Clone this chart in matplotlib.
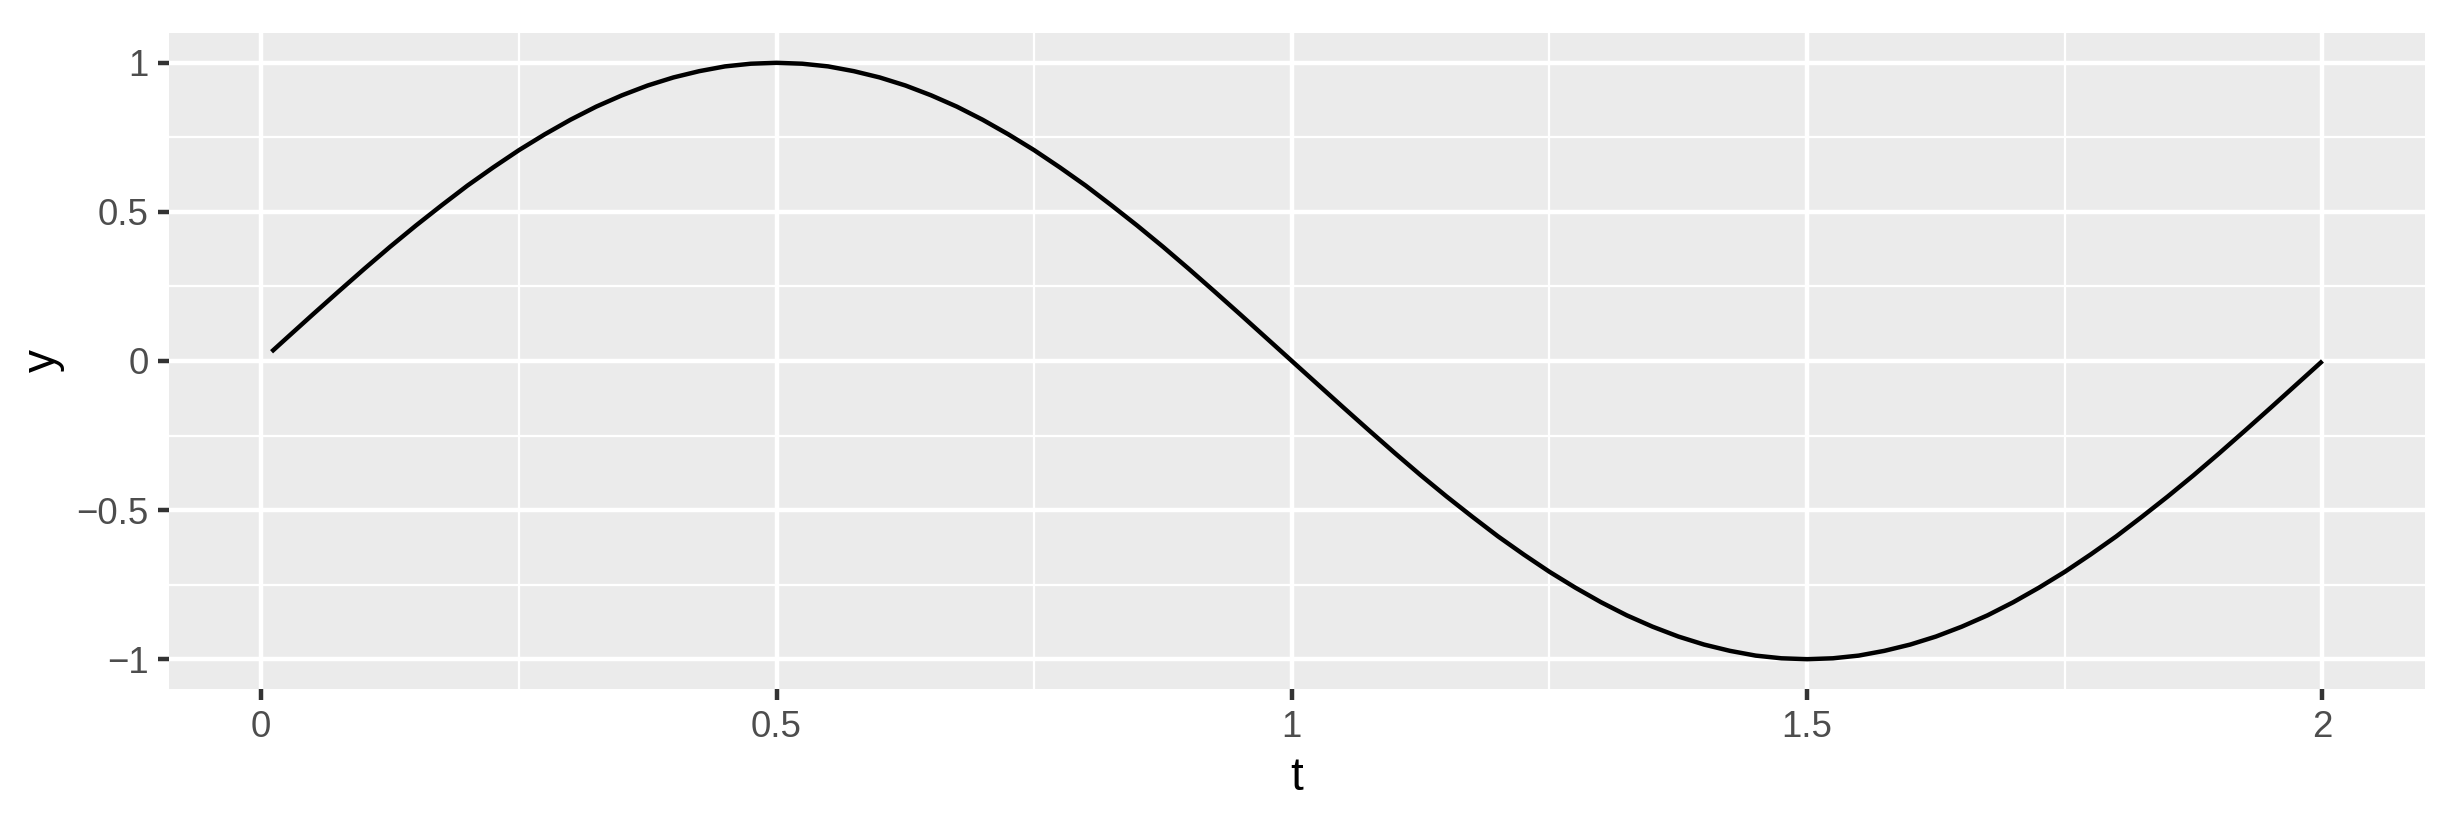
import matplotlib
matplotlib.use("Agg")
import matplotlib.pyplot as plt
from matplotlib.ticker import MultipleLocator

plt.rcParams['font.family'] = ['Liberation Sans', 'DejaVu Sans']

# values
t = [0.010, 0.025, 0.050, 0.075, 0.100, 0.125, 0.150, 0.175, 0.200, 0.225,
     0.250, 0.275, 0.300, 0.325, 0.350, 0.375, 0.400, 0.425, 0.450, 0.475,
     0.500, 0.525, 0.550, 0.575, 0.600, 0.625, 0.650, 0.675, 0.700, 0.725,
     0.750, 0.775, 0.800, 0.825, 0.850, 0.875, 0.900, 0.925, 0.950, 0.975,
     1.000, 1.025, 1.050, 1.075, 1.100, 1.125, 1.150, 1.175, 1.200, 1.225,
     1.250, 1.275, 1.300, 1.325, 1.350, 1.375, 1.400, 1.425, 1.450, 1.475,
     1.500, 1.525, 1.550, 1.575, 1.600, 1.625, 1.650, 1.675, 1.700, 1.725,
     1.750, 1.775, 1.800, 1.825, 1.850, 1.875, 1.900, 1.925, 1.950, 1.975,
     2.000]
y = [0.031, 0.078, 0.156, 0.233, 0.309, 0.383, 0.454, 0.522, 0.588, 0.649,
     0.707, 0.760, 0.809, 0.853, 0.891, 0.924, 0.951, 0.972, 0.988, 0.997,
     1.000, 0.997, 0.988, 0.972, 0.951, 0.924, 0.891, 0.853, 0.809, 0.760,
     0.707, 0.649, 0.588, 0.522, 0.454, 0.383, 0.309, 0.233, 0.156, 0.078,
     0.000, -0.078, -0.156, -0.233, -0.309, -0.383, -0.454, -0.522, -0.588, -0.649,
     -0.707, -0.760, -0.809, -0.853, -0.891, -0.924, -0.951, -0.972, -0.988, -0.997,
     -1.000, -0.997, -0.988, -0.972, -0.951, -0.924, -0.891, -0.853, -0.809, -0.760,
     -0.707, -0.649, -0.588, -0.522, -0.454, -0.383, -0.309, -0.233, -0.156, -0.078,
     0.000]

x_ticks = [0, 0.5, 1, 1.5, 2]
x_labels = ["0", "0.5", "1", "1.5", "2"]
y_ticks = [-1, -0.5, 0, 0.5, 1]
y_labels = ["\u22121", "\u22120.5", "0", "0.5", "1"]

W, H, DPI = 2440, 822, 300
fig = plt.figure(figsize=(W / DPI, H / DPI), dpi=DPI)
ax = fig.add_axes([169 / W, (H - 689) / H, 2256 / W, 656 / H])
ax.set_facecolor('#EBEBEB')
for s in ax.spines.values():
    s.set_visible(False)

ax.plot(t, y, color='black', lw=1.07, solid_capstyle='butt',
        solid_joinstyle='round', zorder=3)

# ggplot-like expansion
span = max(t) - min(t)
ax.set_xlim(min(t) - 0.05 * span, max(t) + 0.05 * span)
ax.set_ylim(-1.1, 1.1)

ax.set_xticks(x_ticks)
ax.set_xticklabels(x_labels)
ax.set_yticks(y_ticks)
ax.set_yticklabels(y_labels)
ax.xaxis.set_minor_locator(MultipleLocator(0.25))
ax.yaxis.set_minor_locator(MultipleLocator(0.25))

ax.grid(which='major', color='white', lw=1.07, zorder=1)
ax.grid(which='minor', color='white', lw=0.53, zorder=1)
ax.set_axisbelow(True)

ax.tick_params(which='major', length=2.75, width=1.07, color='#333333',
               labelsize=8.8, labelcolor='#4D4D4D', pad=2.2)
ax.tick_params(which='minor', length=0)

ax.set_xlabel('t', fontsize=11, color='black', labelpad=2.75)
ax.set_ylabel('y', fontsize=11, color='black', labelpad=2.75)

fig.savefig('out.png', dpi=DPI, facecolor='white')
